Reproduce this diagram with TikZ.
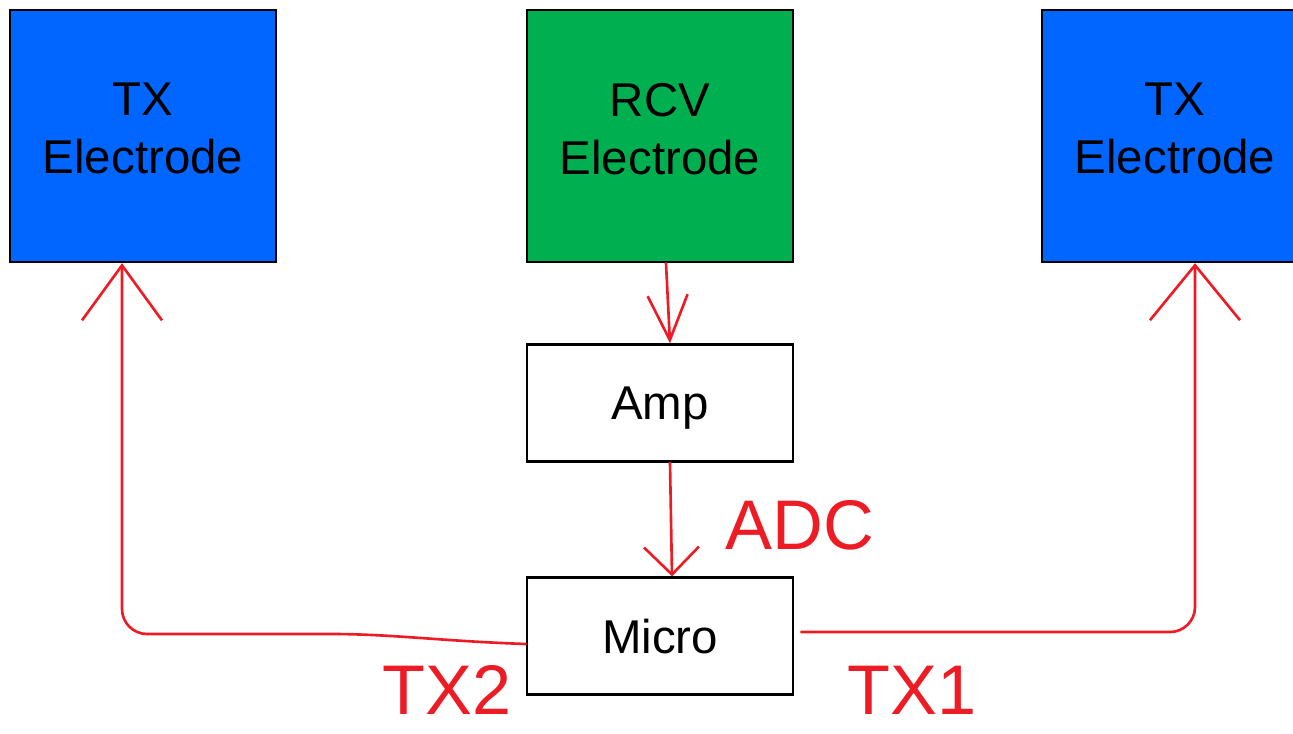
\documentclass[tikz,border=0pt]{standalone}
\usepackage{fontspec}
\setmainfont{Liberation Sans}
\usetikzlibrary{arrows.meta,positioning}
\definecolor{txblue}{RGB}{0,102,255}
\definecolor{rcvgreen}{RGB}{0,176,80}
\definecolor{penred}{RGB}{237,28,36}

\begin{document}
\begin{tikzpicture}
		[x=0.02cm, y=-0.02cm,
		boxsty/.style={draw=black, line width=1.3pt, minimum width=5.32cm, align=center,
			inner sep=0pt, font=\fontsize{27}{33}\selectfont},
		elecsty/.style={boxsty, minimum height=5.04cm, text depth=0.3cm},
		blocksty/.style={boxsty, fill=white, minimum height=2.34cm, text depth=0pt},
		wiresty/.style={draw=penred, line width=1.5pt, line cap=round, line join=round},
		notesty/.style={text=penred, inner sep=0pt, font=\fontsize{40}{40}\selectfont}]
		\useasboundingbox (0,0) rectangle (1293,733);
		\clip (0,0) rectangle (1293,733);
		
		\node (tx left)  at ( 143,136) [elecsty, fill=txblue]   {TX\\Electrode};
		\node (rcv)      at ( 660,136) [elecsty, fill=rcvgreen] {RCV\\Electrode};
		\node (tx right) at (1175,136) [elecsty, fill=txblue]   {TX\\Electrode};
		\node (amp)      at ( 660,403) [blocksty] {Amp};
		\node (micro)    at ( 660,636) [blocksty] {Micro};
		
		\draw[wiresty, -{Straight Barb[length=0.9cm, width=0.8cm]}]
			([xshift=0.12cm]rcv.south) -- ([xshift=0.2cm]amp.north);
		\draw[wiresty, -{Straight Barb[length=0.55cm, width=1.1cm]}]
			([xshift=0.2cm]amp.south) -- ([xshift=0.24cm]micro.north);
		\draw[wiresty, rounded corners=0.5cm, -{Straight Barb[length=1.1cm, width=1.6cm]}]
			([yshift=-0.16cm]micro.west) to[out=178, in=0] ++(-220,-10)
			-| ([xshift=-0.42cm]tx left.south);
		\draw[wiresty, rounded corners=0.5cm, -{Straight Barb[length=1.1cm, width=1.8cm]}]
			([xshift=0.14cm, yshift=0.08cm]micro.east) -| ([xshift=0.4cm]tx right.south);
		
		\node (adc note) at (800,525) [notesty] {ADC};
		\node (tx2 note) at (447,690) [notesty] {TX2};
		\node (tx1 note) at (912,690) [notesty] {TX1};
	\end{tikzpicture}
\end{document}
